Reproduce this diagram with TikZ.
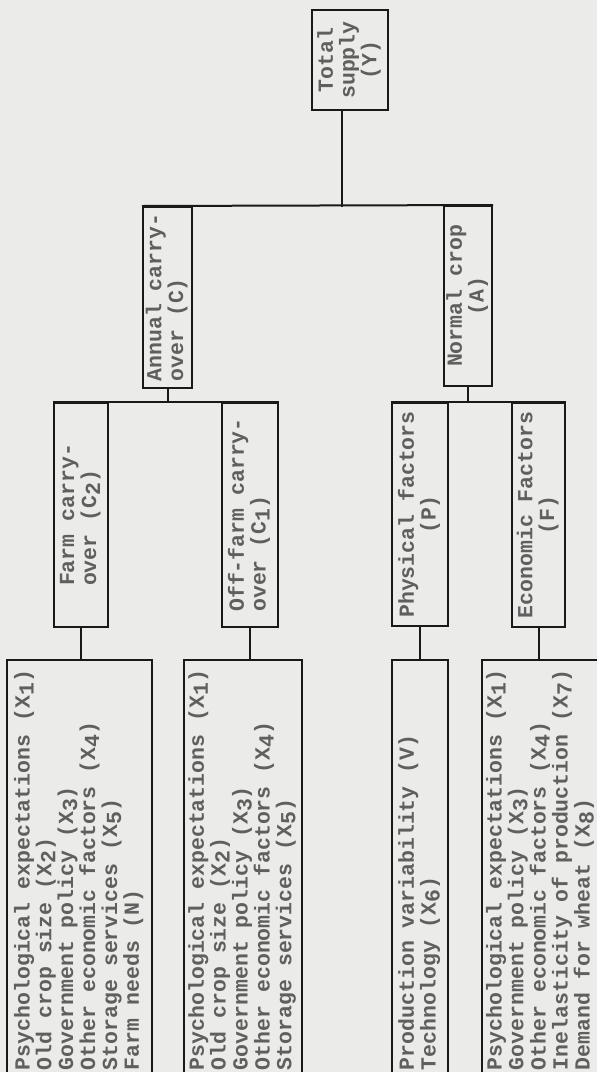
\documentclass[tikz,border=0pt]{standalone}
\usepackage{fontspec}
\newfontfamily\typewriter{Liberation Mono}
\newcommand{\uptext}[2]{\rotatebox{90}{\begin{tabular}{@{}#1@{}}#2\end{tabular}}}
\newcommand{\lowdig}[1]{\raisebox{-0.35ex}{#1}}
\definecolor{paper}{RGB}{235,235,233}
\definecolor{ink}{RGB}{95,95,95}
\definecolor{rule}{RGB}{25,25,25}

\begin{document}
\begin{tikzpicture}[x=0.5pt, y=-0.5pt,
        box/.style={rectangle, draw=rule, line width=1pt, inner sep=0pt, text=ink},
        edge/.style={draw=rule, line width=1pt},
        every node/.style={font=\typewriter\bfseries\fontsize{10.75}{10.35}\selectfont}
        ]
      \clip (0,0) rectangle (597,1072);
      \fill[paper] (0,0) rectangle (597,1072);

      % top of the tree
      \node[box, minimum width=38pt, minimum height=50pt] (total) at (350,60) {\uptext{c}{Total\\supply\\(Y)}};
      \node[box, minimum width=24.5pt, minimum height=90.5pt] (annual) at (167.5,297.5) {\uptext{l}{Annual carry-\\over (C)}};
      \node[box, minimum width=24pt, minimum height=90pt] (normal) at (468,296) {\uptext{c}{Normal crop\\(A)}};

      % second level
      \node[box, minimum width=27pt, minimum height=112pt] (farm) at (81,515) {\uptext{l}{Farm carry-\\over (C\lowdig{2})}};
      \node[box, minimum width=28pt, minimum height=112pt] (offfarm) at (250,515) {\uptext{l}{Off-farm carry-\\over (C\lowdig{1})}};
      \node[box, minimum width=28pt, minimum height=111.5pt] (physical) at (420,514.5) {\uptext{c}{Physical factors\\(P)}};
      \node[box, minimum width=26.5pt, minimum height=112pt] (economic) at (538.5,515) {\uptext{c}{Economic Factors\\(F)}};

      % lists of factors
      \node[box, minimum width=72.5pt, minimum height=210pt] (farmlist) at (79.5,870) {\uptext{p{200pt}}{Psychological expectations (X\lowdig{1})\\Old crop size (X\lowdig{2})\\Government policy (X\lowdig{3})\\Other economic factors (X\lowdig{4})\\Storage services (X\lowdig{5})\\Farm needs (N)}};
      \node[box, minimum width=59pt, minimum height=210pt] (offlist) at (243,870) {\uptext{p{200pt}}{Psychological expectations (X\lowdig{1})\\Old crop size (X\lowdig{2})\\Government policy (X\lowdig{3})\\Other economic factors (X\lowdig{4})\\Storage services (X\lowdig{5})}};
      \node[box, minimum width=28pt, minimum height=210pt] (physlist) at (420,870) {\uptext{p{200pt}}{Production variability (V)\\Technology (X\lowdig{6})}};
      \node[box, minimum width=59pt, minimum height=210pt] (econlist) at (541,870) {\uptext{p{200pt}}{Psychological expectations (X\lowdig{1})\\Government policy (X\lowdig{3})\\Other economic factors (X\lowdig{4})\\Inelasticity of production (X\lowdig{7})\\Demand for wheat (X\lowdig{8})}};

      \coordinate (split) at (342,207);
      \draw[edge] (total.south -| split) -- (split);
      \draw[edge] (annual.north west) -- (normal.north east);

      \draw[edge] (annual.south) -- (annual.south |- farm.north);
      \draw[edge] (farm.north west) -- (offfarm.north east);
      \draw[edge] (normal.south) -- (normal.south |- physical.north);
      \draw[edge] (physical.north west) -- (economic.north east);

      \draw[edge] (farm.south) -- (farm.south |- farmlist.north);
      \draw[edge] (offfarm.south) -- (offfarm.south |- offlist.north);
      \draw[edge] (physical.south) -- (physical.south |- physlist.north);
      \draw[edge] (economic.south) -- (economic.south |- econlist.north);

    \end{tikzpicture}
\end{document}
